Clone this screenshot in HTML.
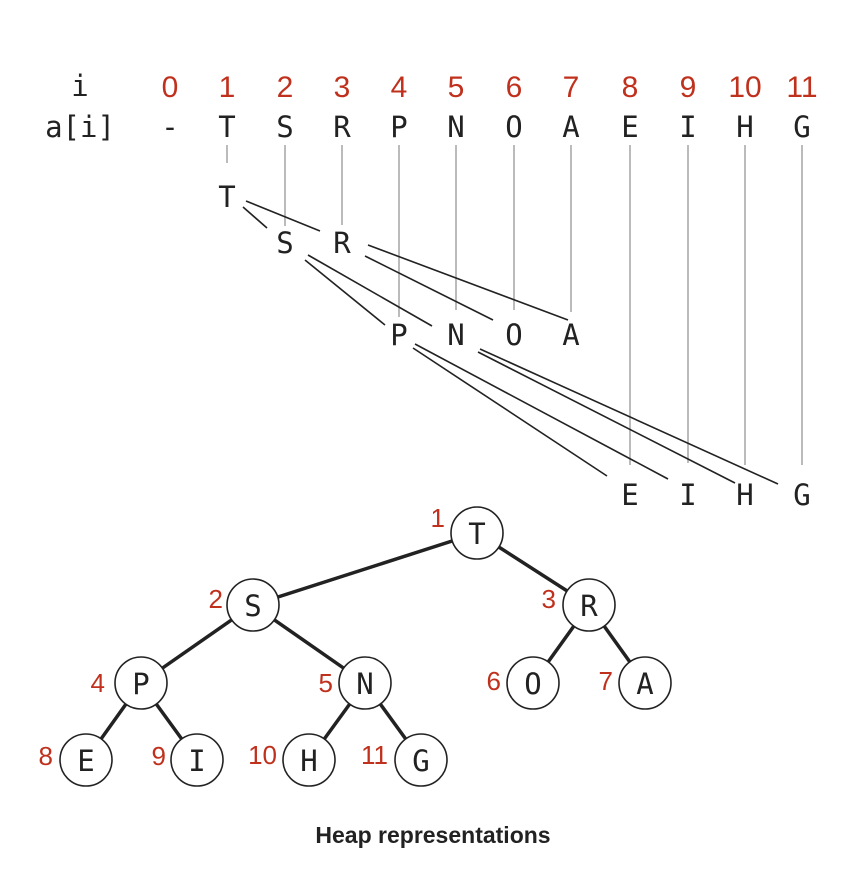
<!DOCTYPE html>
<html><head><meta charset="utf-8"><style>
html,body{margin:0;padding:0;background:#fff}
svg{display:block}
.m{font-family:"DejaVu Sans Mono","Liberation Mono",monospace;font-size:29px;fill:#222;text-anchor:middle}
.r{font-family:"Liberation Sans",sans-serif;font-size:30px;fill:#c0311d;text-anchor:middle}
.rl{font-family:"Liberation Sans",sans-serif;font-size:26px;fill:#c0311d;text-anchor:end}
.g{stroke:#bbb;stroke-width:2}
.b{stroke:#222;stroke-width:1.6}
.e{stroke:#222;stroke-width:3.5}
circle{fill:#fff;stroke:#222;stroke-width:1.6}
</style></head><body>
<svg width="856" height="892" viewBox="0 0 856 892">
<text class="m" x="80" y="96">i</text>
<text class="m" x="80" y="137">a[i]</text>
<g>
<text class="r" x="170" y="97">0</text><text class="r" x="227" y="97">1</text><text class="r" x="285" y="97">2</text><text class="r" x="342" y="97">3</text><text class="r" x="399" y="97">4</text><text class="r" x="456" y="97">5</text><text class="r" x="514" y="97">6</text><text class="r" x="571" y="97">7</text><text class="r" x="630" y="97">8</text><text class="r" x="688" y="97">9</text><text class="r" x="745" y="97">10</text><text class="r" x="802" y="97">11</text>
</g>
<g>
<text class="m" x="170" y="137">-</text><text class="m" x="227" y="137">T</text><text class="m" x="285" y="137">S</text><text class="m" x="342" y="137">R</text><text class="m" x="399" y="137">P</text><text class="m" x="456" y="137">N</text><text class="m" x="514" y="137">O</text><text class="m" x="571" y="137">A</text><text class="m" x="630" y="137">E</text><text class="m" x="688" y="137">I</text><text class="m" x="745" y="137">H</text><text class="m" x="802" y="137">G</text>
</g>
<line class="g" x1="227" y1="145" x2="227" y2="163"/>
<line class="g" x1="285" y1="145" x2="285" y2="226"/>
<line class="g" x1="342" y1="145" x2="342" y2="225"/>
<line class="g" x1="399" y1="145" x2="399" y2="317"/>
<line class="g" x1="456" y1="145" x2="456" y2="310"/>
<line class="g" x1="514" y1="145" x2="514" y2="310"/>
<line class="g" x1="571" y1="145" x2="571" y2="312"/>
<line class="g" x1="630" y1="145" x2="630" y2="465"/>
<line class="g" x1="688" y1="145" x2="688" y2="463"/>
<line class="g" x1="745" y1="145" x2="745" y2="465"/>
<line class="g" x1="802" y1="145" x2="802" y2="465"/>
<text class="m" x="227" y="207">T</text>
<text class="m" x="285" y="253">S</text><text class="m" x="342" y="253">R</text>
<text class="m" x="399" y="345">P</text><text class="m" x="456" y="345">N</text><text class="m" x="514" y="345">O</text><text class="m" x="571" y="345">A</text>
<text class="m" x="630" y="505">E</text><text class="m" x="688" y="505">I</text><text class="m" x="745" y="505">H</text><text class="m" x="802" y="505">G</text>
<line class="b" x1="243" y1="207" x2="267" y2="228"/>
<line class="b" x1="246" y1="201" x2="320" y2="231"/>
<line class="b" x1="365" y1="256" x2="493" y2="320"/>
<line class="b" x1="368" y1="245" x2="568" y2="320"/>
<line class="b" x1="305" y1="260" x2="385" y2="325"/>
<line class="b" x1="308" y1="255" x2="432" y2="326"/>
<line class="b" x1="413" y1="348" x2="607" y2="476"/>
<line class="b" x1="415" y1="344" x2="668" y2="479"/>
<line class="b" x1="478" y1="352" x2="735" y2="483"/>
<line class="b" x1="480" y1="349" x2="778" y2="484"/>
<!-- tree -->
<line class="e" x1="477" y1="533" x2="253" y2="605"/>
<line class="e" x1="477" y1="533" x2="589" y2="605"/>
<line class="e" x1="253" y1="605" x2="141" y2="683"/>
<line class="e" x1="253" y1="605" x2="365" y2="683"/>
<line class="e" x1="589" y1="605" x2="533" y2="683"/>
<line class="e" x1="589" y1="605" x2="645" y2="683"/>
<line class="e" x1="141" y1="683" x2="86" y2="760"/>
<line class="e" x1="141" y1="683" x2="197" y2="760"/>
<line class="e" x1="365" y1="683" x2="309" y2="760"/>
<line class="e" x1="365" y1="683" x2="421" y2="760"/>
<circle cx="477" cy="533" r="26"/><circle cx="253" cy="605" r="26"/><circle cx="589" cy="605" r="26"/>
<circle cx="141" cy="683" r="26"/><circle cx="365" cy="683" r="26"/><circle cx="533" cy="683" r="26"/><circle cx="645" cy="683" r="26"/>
<circle cx="86" cy="760" r="26"/><circle cx="197" cy="760" r="26"/><circle cx="309" cy="760" r="26"/><circle cx="421" cy="760" r="26"/>
<text class="m" x="477" y="544">T</text><text class="m" x="253" y="616">S</text><text class="m" x="589" y="616">R</text>
<text class="m" x="141" y="694">P</text><text class="m" x="365" y="694">N</text><text class="m" x="533" y="694">O</text><text class="m" x="645" y="694">A</text>
<text class="m" x="86" y="771">E</text><text class="m" x="197" y="771">I</text><text class="m" x="309" y="771">H</text><text class="m" x="421" y="771">G</text>
<text class="rl" x="445" y="527">1</text><text class="rl" x="223" y="608">2</text><text class="rl" x="556" y="608">3</text>
<text class="rl" x="105" y="692">4</text><text class="rl" x="333" y="692">5</text><text class="rl" x="501" y="690">6</text><text class="rl" x="613" y="690">7</text>
<text class="rl" x="53" y="765">8</text><text class="rl" x="166" y="765">9</text><text class="rl" x="277" y="764">10</text><text class="rl" x="388" y="764">11</text>
<text x="433" y="843" style="font-family:'Liberation Sans',sans-serif;font-weight:bold;font-size:23px;fill:#222;text-anchor:middle">Heap representations</text>
</svg>
</body></html>
